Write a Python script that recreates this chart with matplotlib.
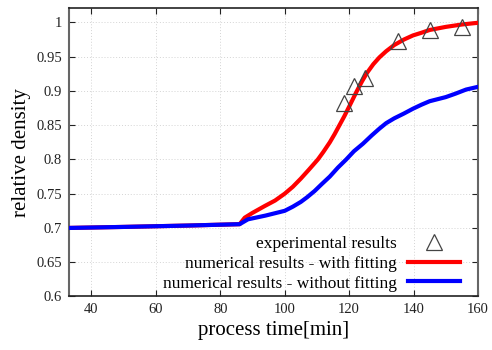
import numpy as np
import matplotlib
matplotlib.use("Agg")
import matplotlib.pyplot as plt

plt.rcParams['font.family'] = ['Liberation Serif', 'DejaVu Serif']

# experimental points
exp_t = [118.3, 121.5, 125.0, 135.2, 145.1, 155.1]
exp_rho = [0.882, 0.907, 0.919, 0.973, 0.989, 0.993]

# numerical results - with fitting
fit_t = [33, 50, 70, 86, 87.6, 90, 93.8, 97, 100, 102.5, 105, 107.5, 110.3,
         112, 114, 115.5, 117, 118.5, 120, 122.2, 124, 125.5, 127.5, 129.4,
         131.5, 134, 137, 139.8, 142.5, 145, 150, 155, 160]
fit_rho = [0.700, 0.7015, 0.7035, 0.7055, 0.715, 0.722, 0.732, 0.740, 0.750,
           0.760, 0.772, 0.785, 0.800, 0.811, 0.825, 0.837, 0.850, 0.863,
           0.877, 0.898, 0.914, 0.926, 0.939, 0.949, 0.958, 0.967, 0.975,
           0.981, 0.985, 0.989, 0.9935, 0.997, 0.9995]

# numerical results - without fitting
nofit_t = [33, 50, 70, 86, 88.6, 94, 100, 102.5, 105, 107, 109.3, 111.5, 114,
           116.5, 119.1, 121.5, 124.3, 127, 129.4, 131.5, 134, 137, 139.8,
           142.5, 145, 147.5, 150, 153, 156.3, 160]
nofit_rho = [0.700, 0.7015, 0.7035, 0.7055, 0.7126, 0.718, 0.725, 0.731,
             0.738, 0.745, 0.754, 0.764, 0.775, 0.788, 0.800, 0.812, 0.823,
             0.835, 0.845, 0.853, 0.860, 0.867, 0.874, 0.880, 0.885, 0.888,
             0.891, 0.896, 0.902, 0.906]

xticks = [40, 60, 80, 100, 120, 140, 160]
yticks = [0.6, 0.65, 0.7, 0.75, 0.8, 0.85, 0.9, 0.95, 1.0]
ytick_labels = ['0.6', '0.65', '0.7', '0.75', '0.8', '0.85', '0.9', '0.95', '1']

fig = plt.figure(figsize=(4.92, 3.5), dpi=100)
ax = fig.add_axes([0.140, 0.153, 0.8315, 0.824])

ax.plot(exp_t, exp_rho, linestyle='none', marker='^', markersize=11,
        markerfacecolor='none', markeredgecolor='#444444', markeredgewidth=0.9,
        label='experimental results', zorder=4)
ax.plot(fit_t, fit_rho, color='#ff0000', lw=3, solid_joinstyle='round',
        label='numerical results - with fitting', zorder=3)
ax.plot(nofit_t, nofit_rho, color='#0000ff', lw=3, solid_joinstyle='round',
        label='numerical results - without fitting', zorder=3)

ax.set_xlim(33, 160)
ax.set_ylim(0.6, 1.021)
ax.set_xticks(xticks)
ax.set_yticks(yticks)
ax.set_yticklabels(ytick_labels)
ax.tick_params(direction='in', top=True, right=True, length=4, width=0.8,
               labelsize=10.5, pad=5, colors='#222222')
ax.grid(True, linestyle=(0, (1, 2)), color='#d4d4d4', lw=0.7)

for s in ['left', 'right']:
    ax.spines[s].set_color('#666666')
    ax.spines[s].set_linewidth(1.5)
for s in ['top', 'bottom']:
    ax.spines[s].set_color('#222222')
    ax.spines[s].set_linewidth(1.2)

ax.set_xlabel('process time[min]', fontsize=15, labelpad=3)
ax.set_ylabel('relative density', fontsize=15, labelpad=4)

ax.legend(loc='lower right', bbox_to_anchor=(0.985, -0.025), frameon=False,
          markerfirst=False, alignment='right', fontsize=12.5,
          handlelength=3.0, handletextpad=0.6, labelspacing=0.2,
          borderaxespad=0.3)

fig.savefig('out.png', dpi=100)
